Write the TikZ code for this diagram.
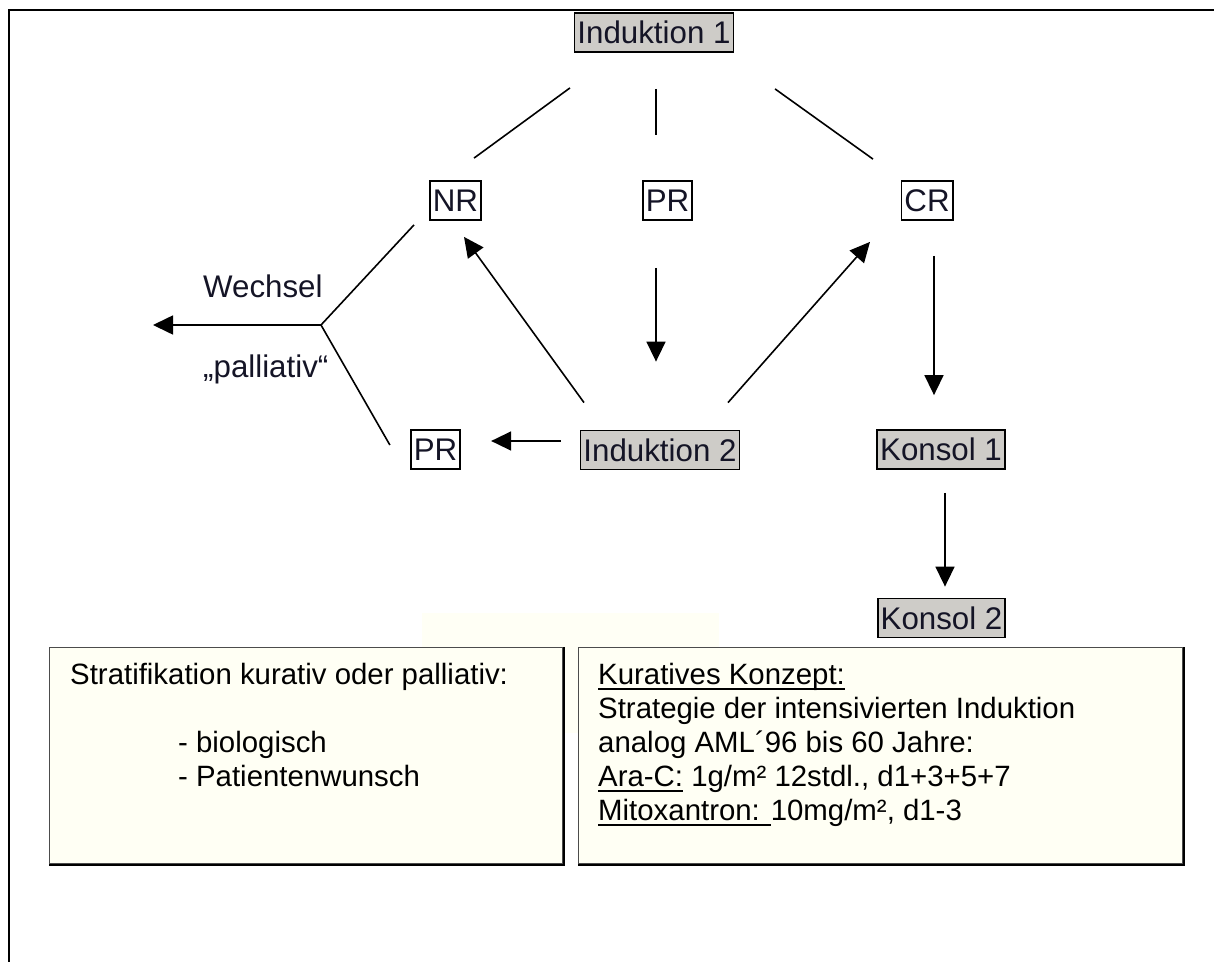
\documentclass[tikz,border=0pt]{standalone}
\usepackage{fontspec}
\setmainfont{Liberation Sans}
\usetikzlibrary{arrows.meta}
\definecolor{boxgray}{RGB}{206,204,200}
\definecolor{ivory}{RGB}{255,255,244}
\definecolor{faint}{RGB}{255,255,245}
\definecolor{inkblue}{RGB}{20,20,38}
\newsavebox\ulbox
\newcommand\ulx[1]{\sbox\ulbox{#1}\rlap{\rule[-6bp]{\wd\ulbox}{2.2bp}}\usebox\ulbox}
\begin{document}
\begin{tikzpicture}[x=1bp,y=-1bp,
  lab/.style={font=\fontsize{31.4}{36}\selectfont, text=inkblue},
  nbox/.style={lab, draw=black, line width=1.8bp, inner xsep=3bp, inner ysep=1.5bp, text height=29bp, text depth=7bp},
  graybox/.style={nbox, fill=boxgray},
  whitebox/.style={nbox, fill=white},
  conn/.style={line width=1.6bp},
  arr/.style={conn, -{Triangle[length=20bp,width=19bp]}},
  txt/.style={font=\fontsize{29.5}{34}\selectfont, anchor=base west, inner sep=0},
  panel/.style={fill=ivory, draw=black!70, line width=1.2bp, anchor=north west, inner sep=0},
  frame/.style={line width=2bp}]
\useasboundingbox (0,0) rectangle (1214,962);
% frame
\coordinate (ftr) at (1214,10);
\coordinate (ftl) at (9,10);
\coordinate (fbl) at (9,962);
\draw[frame] (ftr) -- (ftl) -- (fbl);
% faint background patch
\fill[faint] (422,613) rectangle (719,733);
% nodes
\node[graybox] (ind1) at (654,32.5) {Induktion 1};
\node[whitebox] (nr) at (455.5,200.5) {NR};
\node[whitebox] (prt) at (667.5,200.5) {PR};
\node[whitebox] (cr) at (927,200.5) {CR};
\node[graybox] (ind2) at (660,450) {Induktion 2};
\node[whitebox] (prl) at (435.5,449.5) {PR};
\node[graybox] (k1) at (941,449.5) {Konsol 1};
\node[graybox] (k2) at (941.5,618) {Konsol 2};
% connectors from Induktion 1
\draw[conn] ([shift={(-84,35)}]ind1.south) -- ([shift={(18.5,-22)}]nr.north);
\draw[conn] ([shift={(2,36)}]ind1.south) -- ([shift={(-11.5,-45)}]prt.north);
\draw[conn] ([shift={(121,36)}]ind1.south) -- ([shift={(-54,-21)}]cr.north);
% arrows
\draw[arr] ([shift={(-11.5,47)}]prt.south) -- ([shift={(-4,-68)}]ind2.north);
\draw[arr] ([shift={(-76,-27)}]ind2.north) -- ([shift={(8.5,16)}]nr.south);
\draw[arr] ([shift={(68,-27)}]ind2.north) -- ([shift={(-57,21)}]cr.south);
\draw[arr] ([shift={(7,35)}]cr.south) -- ([shift={(-7,-34)}]k1.north);
\draw[arr] ([shift={(4,23)}]k1.south) -- ([shift={(3.5,-11)}]k2.north);
\draw[arr] ([shift={(-19,-9)}]ind2.west) -- ([shift={(30,-8.5)}]prl.east);
% branch to the left
\coordinate (jn) at (321,325);
\coordinate (wl) at (153,325);
\draw[conn] ([shift={(-15,4)}]nr.south west) -- (jn) -- ([shift={(-20,-4.5)}]prl.west);
\draw[arr] (jn) -- (wl);
\node[lab, anchor=base west, inner sep=0] (wech) at (203,297) {Wechsel};
\node[lab, anchor=base west, inner sep=0] (pall) at (203,377) {„palliativ“};
% panels
\node[panel, minimum width=513bp, minimum height=216bp] (lp) at (49,647) {};
\node[panel, minimum width=604bp, minimum height=216bp] (rp) at (578,647) {};
\draw[line width=1.8bp] ([shift={(1,0)}]lp.north east) -- ([shift={(1,1)}]lp.south east) -- ([shift={(0,1)}]lp.south west);
\draw[line width=1.8bp] ([shift={(1,0)}]rp.north east) -- ([shift={(1,1)}]rp.south east) -- ([shift={(0,1)}]rp.south west);
% panel texts
\node[txt] (l1) at (70,684) {Stratifikation kurativ oder palliativ:};
\node[txt] (l2) at (178,752) {- biologisch};
\node[txt] (l3) at (178,786) {- Patientenwunsch};
\node[txt] (r1) at (598,684) {\ulx{Kuratives Konzept:}};
\node[txt] (r2) at (598,718) {Strategie der intensivierten Induktion};
\node[txt] (r3) at (598,752) {analog AML´96 bis 60 Jahre:};
\node[txt] (r4) at (598,786) {\ulx{Ara-C:} 1g/m² 12stdl., d1+3+5+7};
\node[txt] (r5) at (598,820) {\ulx{Mitoxantron: }10mg/m², d1-3};
\end{tikzpicture}
\end{document}
